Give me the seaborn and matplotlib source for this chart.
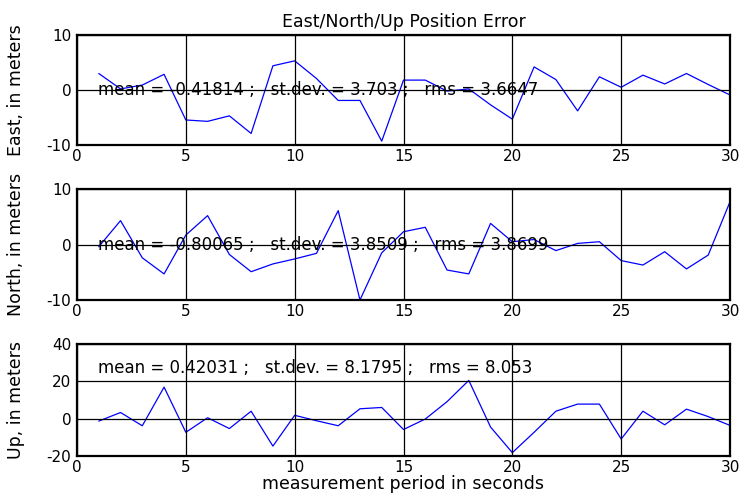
import numpy as np
import pandas as pd
import matplotlib
matplotlib.use("Agg")
import matplotlib.pyplot as plt
import seaborn as sns

seconds = list(range(1, 31))
east = [3.0, 0.2, 0.9, 2.85, -5.45, -5.7, -4.7, -7.9, 4.4, 5.3,
        2.1, -1.9, -1.9, -9.3, 1.8, 1.8, -0.2, 0.2, -2.7, -5.3,
        4.2, 1.9, -3.8, 2.4, 0.5, 2.7, 1.1, 3.0, 1.0, -0.9]
north = [-0.4, 4.3, -2.4, -5.3, 1.7, 5.2, -1.8, -4.9, -3.5, -2.6,
         -1.6, 6.1, -10.0, -1.5, 2.3, 3.1, -4.6, -5.3, 3.8, 0.5,
         0.9, -1.1, 0.2, 0.5, -2.9, -3.7, -1.3, -4.4, -1.9, 7.7]
up = [-1.3, 3.3, -3.8, 16.9, -7.3, 0.5, -5.3, 4.0, -14.7, 1.8,
      -1.1, -3.8, 5.3, 6.0, -5.8, -0.2, 9.1, 20.5, -4.5, -18.2,
      -7.3, 4.0, 7.8, 7.8, -10.9, 4.0, -3.3, 5.1, 1.1, -3.6]

stats = ["mean = -0.41814 ;   st.dev. = 3.703 ;   rms = 3.6647",
         "mean = -0.80065 ;   st.dev. = 3.8509 ;   rms = 3.8699",
         "mean = 0.42031 ;   st.dev. = 8.1795 ;   rms = 8.053"]
ylabels = ["East, in meters", "North, in meters", "Up, in meters"]
ylims = [(-10, 10), (-10, 10), (-20, 40)]
yticks = [[-10, 0, 10], [-10, 0, 10], [-20, 0, 20, 40]]
text_y = [0, 0, 27]
xticks = [0, 5, 10, 15, 20, 25, 30]

sns.set_theme(style="white")
plt.rcParams['font.family'] = ['DejaVu Sans']
plt.rcParams['axes.unicode_minus'] = False

fig = plt.figure(figsize=(7.42, 4.98), dpi=100)
W, H = 742, 498
boxes = [(35, 145), (189, 300), (344, 456)]
left, right = 77, 730
series = [east, north, up]

for i, (top, bot) in enumerate(boxes):
    ax = fig.add_axes([left / W, 1 - bot / H, (right - left) / W, (bot - top) / H])
    df = pd.DataFrame({"t": seconds, "v": series[i]})
    sns.lineplot(data=df, x="t", y="v", ax=ax, color=(0, 0, 1), linewidth=0.9)
    ax.set_xlim(0, 30)
    ax.set_ylim(*ylims[i])
    ax.set_xticks(xticks)
    ax.set_yticks(yticks[i])
    ax.grid(True, color="black", linewidth=0.9)
    ax.set_axisbelow(False)
    for s in ax.spines.values():
        s.set_color("black")
        s.set_linewidth(1.6)
    ax.tick_params(axis="both", labelsize=11, colors="black", direction="in",
                   length=0)
    ax.tick_params(axis="x", pad=3)
    ax.tick_params(axis="y", pad=4)
    ax.set_ylabel(ylabels[i], fontsize=12.5, color="black")
    ax.yaxis.set_label_coords((25 - left) / (right - left), 0.5)
    ax.set_xlabel("")
    ax.text(0.95, text_y[i], stats[i], fontsize=12, color="black",
            va="center", ha="left")
    if i == 0:
        ax.set_title("East/North/Up Position Error", fontsize=12.5, color="black", pad=6)
    if i == 2:
        ax.set_xlabel("measurement period in seconds", fontsize=12.5, color="black",
                      labelpad=0)

fig.savefig("out.png", dpi=100)
